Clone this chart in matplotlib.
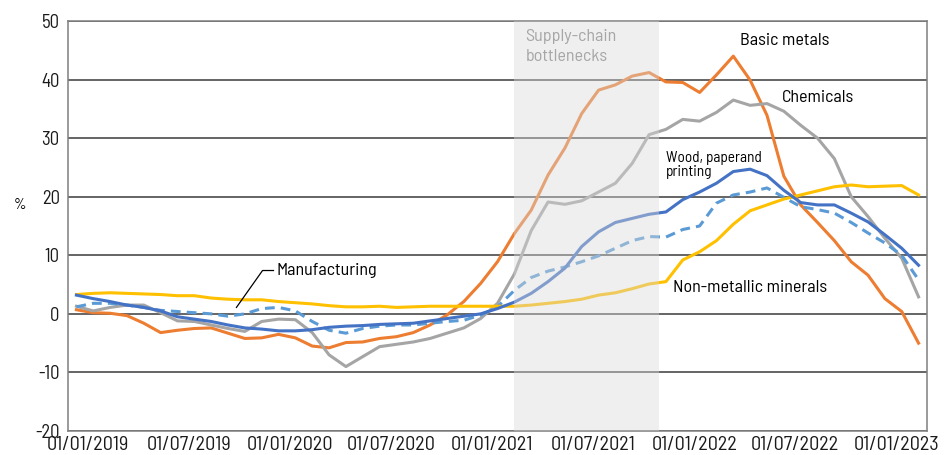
import numpy as np
import pandas as pd
import matplotlib
matplotlib.use("Agg")
import matplotlib.pyplot as plt

plt.rcParams['font.family'] = ['Barlow Semi Condensed', 'Roboto Condensed', 'DejaVu Sans Condensed', 'DejaVu Sans']
plt.rcParams['axes.unicode_minus'] = False

# monthly observations, Jan 2019 .. Mar 2023
months = pd.date_range('2019-01-01', periods=51, freq='MS')

basic_metals = [0.7, 0.2, 0.1, -0.3, -1.6, -3.2, -2.8, -2.5, -2.4, -3.3,
                -4.2, -4.1, -3.5, -4.1, -5.5, -5.8, -4.9, -4.8, -4.2, -3.9,
                -3.2, -1.9, -0.2, 2.1, 5.2, 8.9, 13.7, 17.7, 23.7, 28.3,
                34.2, 38.2, 39.1, 40.6, 41.2, 39.6, 39.5, 37.8, 40.8, 44.0,
                39.9, 33.9, 23.5, 18.6, 15.6, 12.5, 8.9, 6.6, 2.6, 0.4, -5.0]
chemicals = [1.3, 0.5, 1.1, 1.5, 1.5, 0.2, -1.2, -1.3, -1.9, -2.5,
             -3.0, -1.3, -0.9, -1.0, -3.2, -7.0, -9.0, -7.3, -5.6, -5.2,
             -4.8, -4.2, -3.3, -2.4, -0.8, 1.8, 6.8, 14.2, 19.1, 18.7,
             19.3, 20.8, 22.3, 25.7, 30.6, 31.5, 33.2, 32.9, 34.4, 36.5,
             35.6, 35.9, 34.6, 32.2, 30.0, 26.5, 20.0, 16.6, 12.9, 9.5, 2.9]
manufacturing = [3.2, 2.6, 2.1, 1.5, 1.1, 0.5, -0.5, -0.9, -1.3, -1.9,
                 -2.4, -2.6, -2.9, -2.9, -2.7, -2.3, -2.1, -2.0, -1.8, -1.7,
                 -1.6, -1.2, -0.8, -0.4, 0.0, 0.9, 2.0, 3.5, 5.5, 7.8,
                 11.5, 14.0, 15.6, 16.3, 17.0, 17.4, 19.5, 20.8, 22.3, 24.3,
                 24.7, 23.6, 21.1, 19.0, 18.6, 18.6, 17.2, 15.7, 13.5, 11.2, 8.3]
wood_paper = [1.2, 1.8, 1.8, 1.5, 1.1, 0.6, 0.4, 0.2, 0.0, -0.4,
              0.0, 0.9, 1.1, 0.5, -1.3, -2.8, -3.3, -2.5, -2.1, -1.9,
              -1.9, -1.6, -1.3, -1.1, -0.2, 1.2, 4.0, 6.2, 7.3, 8.0,
              8.9, 9.9, 11.2, 12.5, 13.2, 13.1, 14.4, 15.0, 18.9, 20.3,
              20.8, 21.5, 19.9, 18.3, 17.8, 17.2, 15.6, 13.8, 12.1, 10.0, 5.8]
non_metallic = [3.3, 3.5, 3.6, 3.5, 3.4, 3.3, 3.1, 3.1, 2.7, 2.5,
                2.4, 2.4, 2.1, 1.9, 1.7, 1.4, 1.2, 1.2, 1.3, 1.1,
                1.2, 1.3, 1.3, 1.3, 1.3, 1.3, 1.3, 1.5, 1.8, 2.1,
                2.5, 3.2, 3.6, 4.3, 5.1, 5.5, 9.2, 10.6, 12.5, 15.3,
                17.6, 18.6, 19.6, 20.3, 21.0, 21.7, 22.0, 21.7, 21.8, 21.9, 20.3]

tick_labels = ['01/01/2019', '01/07/2019', '01/01/2020', '01/07/2020', '01/01/2021',
               '01/07/2021', '01/01/2022', '01/07/2022', '01/01/2023']

x = np.arange(len(months))

fig = plt.figure(figsize=(9.47, 4.55), dpi=100)
ax = fig.add_axes([68 / 947, 1 - 431 / 455, 859 / 947, 410 / 455])

# grid
for yv in range(-20, 51, 10):
    ax.axhline(yv, color='#3a3a3a', lw=1.1, zorder=1)

lw = 2.2
ax.plot(x, basic_metals, color='#ED7D31', lw=lw, zorder=3)
ax.plot(x, chemicals, color='#A5A5A5', lw=lw, zorder=3)
ax.plot(x, wood_paper, color='#5B9BD5', lw=lw, ls=(0, (3.2, 2.0)), zorder=3)
ax.plot(x, manufacturing, color='#4472C4', lw=lw, zorder=4)
ax.plot(x, non_metallic, color='#FFC000', lw=lw, zorder=3)

# supply-chain bottleneck period
ax.axvspan(25.97, 34.6, color='#D9D9D9', alpha=0.42, lw=0, zorder=5)
ax.text(26.65, 48.6, 'Supply-chain\nbottlenecks', color='#A6A6A6', fontsize=13,
        va='top', ha='left', linespacing=1.4, zorder=6)

ax.set_xlim(-0.5, 50.5)
ax.set_ylim(-20, 50)
ax.set_yticks(range(-20, 51, 10))
ax.set_xticks(np.arange(len(tick_labels)) * 6 + 0.68)
ax.set_xticklabels(tick_labels)
ax.tick_params(axis='both', length=0, colors='#1a1a1a')
ax.tick_params(axis='y', pad=6, labelsize=13.5)
ax.tick_params(axis='x', pad=3.5, labelsize=14.5)
for s in ax.spines.values():
    s.set_color('#7f7f7f')
    s.set_linewidth(1.1)

# series labels
ax.text(39.4, 46.6, 'Basic metals', fontsize=13, ha='left', va='center')
ax.text(41.9, 37.0, 'Chemicals', fontsize=13, ha='left', va='center')
ax.text(35.0, 25.4, 'Wood, paperand\nprinting', fontsize=11, ha='left', va='center',
        linespacing=1.05)
ax.text(35.4, 4.5, 'Non-metallic minerals', fontsize=13, ha='left', va='center')
ax.text(11.9, 7.4, 'Manufacturing', fontsize=13, ha='left', va='center')
ax.plot([11.7, 11.05, 9.5], [7.4, 7.4, 1.1], color='black', lw=0.9, zorder=6)

fig.text(20 / 947, 1 - 205 / 455, '%', fontsize=11, ha='center', va='center')

fig.savefig('out.png', dpi=100)
